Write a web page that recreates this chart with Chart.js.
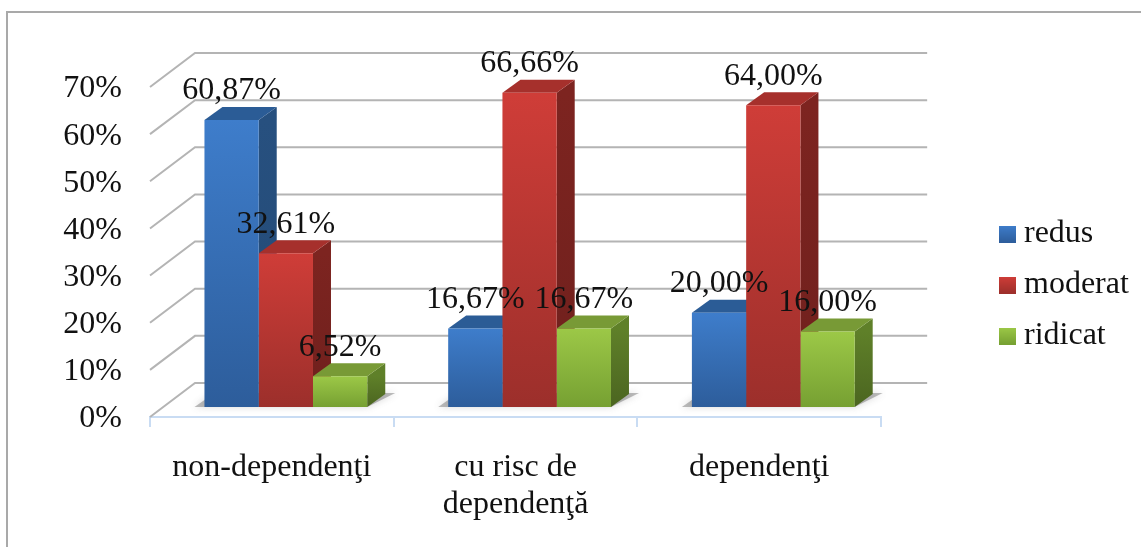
<!DOCTYPE html>
<html>
<head>
<meta charset="utf-8">
<script src="https://cdn.jsdelivr.net/npm/chart.js@4"></script>
<style>
  html, body { margin: 0; padding: 0; background: #fff; overflow: hidden; }
  #frame { position: absolute; left: 6px; top: 11px; width: 1135px; height: 536px;
           border-left: 2px solid #a9a9a9; border-top: 2px solid #a9a9a9; box-sizing: border-box; }
  canvas { position: absolute; left: 0; top: 0; }
</style>
</head>
<body>
<div id="frame"></div>
<canvas id="chart" width="1141" height="547"></canvas>
<script>
const categories = ['non-dependenţi', ['cu risc de', 'dependenţă'], 'dependenţi'];
const seriesNames = ['redus', 'moderat', 'ridicat'];
const redus = [60.87, 16.67, 20.00];
const moderat = [32.61, 66.66, 64.00];
const ridicat = [6.52, 16.67, 16.00];
const yTicks = [0, 10, 20, 30, 40, 50, 60, 70];

// top, bottom of the front face, then side (top, bottom) and lid
const palette = [
    { front: ['#3e7dcb', '#2d5d9b'], side: ['#27507f', '#234a76'], lid: '#2b5c96' },
    { front: ['#cf3d38', '#9c2f2b'], side: ['#7d2420', '#6f201d'], lid: '#a6302c' },
    { front: ['#9cc847', '#76a032'], side: ['#5f8029', '#4b6520'], lid: '#789a36' }
];

const SERIF = '"Liberation Serif", "Times New Roman", serif';
const depth = { x: 18, y: 13 };        // bar depth
const wall = { x: 45, y: 34 };         // back wall offset
const barShift = { x: 14, y: 10 };     // bars sit a bit inside the floor

function frontFill(i) {
    return ctx => {
        if (!ctx.parsed) return palette[i].front[0];
        const y = ctx.chart.scales.y;
        const g = ctx.chart.ctx.createLinearGradient(0, y.getPixelForValue(ctx.parsed.y), 0, y.getPixelForValue(0));
        g.addColorStop(0, palette[i].front[0]);
        g.addColorStop(1, palette[i].front[1]);
        return g;
    };
}

function swatch(i) {
    const c = document.createElement('canvas');
    c.width = 17;
    c.height = 17;
    const x = c.getContext('2d');
    const g = x.createLinearGradient(0, 0, 0, 17);
    g.addColorStop(0, palette[i].front[0]);
    g.addColorStop(1, palette[i].front[1]);
    x.fillStyle = g;
    x.fillRect(0, 0, 17, 17);
    return c;
}

const wallPlugin = {
    id: 'wall',
    afterLayout(chart) {
        chart.legend.left = 988;
        chart.legend.right = 1141;
        chart.legend.top = 123;
        chart.legend.bottom = 447;
    },
    beforeDatasetsDraw(chart) {
        const { ctx, scales: { x, y } } = chart;
        ctx.save();
        ctx.strokeStyle = '#b4b4b4';
        ctx.lineWidth = 2;
        yTicks.forEach(t => {
            const py = y.getPixelForValue(t);
            ctx.beginPath();
            ctx.moveTo(x.left, py);
            ctx.lineTo(x.left + wall.x, py - wall.y);
            ctx.lineTo(x.right + wall.x + 1, py - wall.y);
            ctx.stroke();
        });
        ctx.restore();

        // floor shadow under each group
        const first = chart.getDatasetMeta(0).data;
        const last = chart.getDatasetMeta(2).data;
        first.forEach((bar, i) => {
            const l = bar.x - bar.width / 2 + barShift.x;
            const r = last[i].x + last[i].width / 2 + barShift.x;
            const b = y.getPixelForValue(0) - barShift.y;
            ctx.save();
            ctx.fillStyle = 'rgba(90,90,90,0.4)';
            ctx.shadowColor = 'rgba(90,90,90,0.6)';
            ctx.shadowBlur = 7;
            ctx.beginPath();
            ctx.moveTo(l - 10, b);
            ctx.lineTo(r, b);
            ctx.lineTo(r + 28, b - 14);
            ctx.lineTo(l + 10, b - 14);
            ctx.closePath();
            ctx.fill();
            ctx.restore();
        });

        // side and lid of every bar, the fronts come from the library on top
        for (let d = 0; d < 3; d++) {
            chart.getDatasetMeta(d).data.forEach(bar => {
                const r = bar.x + bar.width / 2 + barShift.x;
                const l = bar.x - bar.width / 2 + barShift.x;
                const t = bar.y - barShift.y;
                const b = bar.base - barShift.y;
                const g = ctx.createLinearGradient(0, t, 0, b);
                g.addColorStop(0, palette[d].side[0]);
                g.addColorStop(1, palette[d].side[1]);
                ctx.fillStyle = g;
                ctx.beginPath();
                ctx.moveTo(r, t);
                ctx.lineTo(r + depth.x, t - depth.y);
                ctx.lineTo(r + depth.x, b - depth.y);
                ctx.lineTo(r, b);
                ctx.closePath();
                ctx.fill();
                ctx.fillStyle = palette[d].lid;
                ctx.beginPath();
                ctx.moveTo(l, t);
                ctx.lineTo(l + depth.x, t - depth.y);
                ctx.lineTo(r + depth.x, t - depth.y);
                ctx.lineTo(r, t);
                ctx.closePath();
                ctx.fill();
            });
        }
        ctx.save();
        ctx.translate(barShift.x, -barShift.y);
    },
    afterDatasetsDraw(chart) {
        const { ctx } = chart;
        ctx.restore();
        ctx.save();
        ctx.font = '32px ' + SERIF;
        ctx.fillStyle = '#111';
        ctx.textAlign = 'center';
        ctx.textBaseline = 'middle';
        for (let d = 0; d < 3; d++) {
            const values = chart.data.datasets[d].data;
            chart.getDatasetMeta(d).data.forEach((bar, i) => {
                ctx.fillText(values[i].toFixed(2).replace('.', ',') + '%', bar.x + barShift.x, bar.y - barShift.y - 29);
            });
        }
        ctx.restore();
    }
};

new Chart(document.getElementById('chart'), {
    type: 'bar',
    data: {
        labels: categories,
        datasets: [
            { label: seriesNames[0], data: redus, backgroundColor: frontFill(0), clip: false },
            { label: seriesNames[1], data: moderat, backgroundColor: frontFill(1), clip: false },
            { label: seriesNames[2], data: ridicat, backgroundColor: frontFill(2), clip: false }
        ]
    },
    options: {
        responsive: false,
        animation: false,
        devicePixelRatio: 1,
        layout: { padding: { top: 87, right: 109, left: 0, bottom: 0 } },
        datasets: { bar: { categoryPercentage: 0.668, barPercentage: 1 } },
        scales: {
            x: {
                grid: { drawOnChartArea: false, color: '#c9dcf3', lineWidth: 2, tickLength: 10 },
                border: { color: '#c9dcf3', width: 2 },
                ticks: {
                    color: '#111', padding: 22, autoSkip: false, maxRotation: 0,
                    font: { family: SERIF, size: 32, lineHeight: 1.15 }
                },
                afterFit(s) { s.height = 130; s.paddingLeft = 0; s.paddingRight = 0; }
            },
            y: {
                min: 0,
                max: 70,
                afterBuildTicks(s) { s.ticks = yTicks.map(v => ({ value: v })); },
                grid: { display: false },
                border: { display: false },
                ticks: {
                    color: '#111', padding: 20, labelOffset: 2,
                    font: { family: SERIF, size: 32 },
                    callback: v => v + '%'
                },
                afterFit(s) { s.width = 150; s.paddingTop = 0; s.paddingBottom = 0; }
            }
        },
        plugins: {
            title: { display: false },
            tooltip: { enabled: false },
            legend: {
                position: 'right',
                labels: {
                    color: '#111',
                    padding: 19,
                    boxWidth: 17,
                    boxHeight: 17,
                    usePointStyle: true,
                    pointStyleWidth: 1,
                    font: { family: SERIF, size: 32 },
                    generateLabels: () => seriesNames.map((text, i) => ({
                        text, datasetIndex: i, pointStyle: swatch(i), fontColor: '#111', hidden: false
                    }))
                }
            }
        }
    },
    plugins: [wallPlugin]
});
</script>
</body>
</html>
